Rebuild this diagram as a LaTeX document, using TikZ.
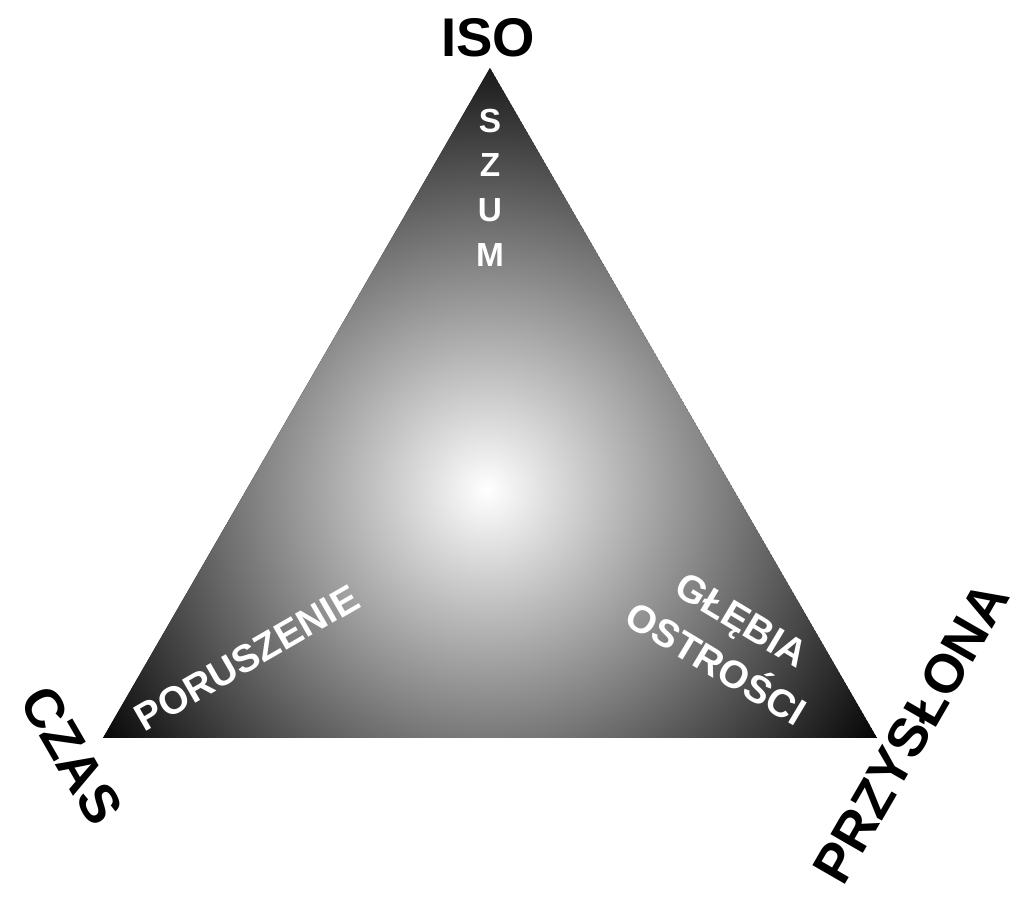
\documentclass[tikz,border=0pt]{standalone}
\usepackage{fontspec}
\setmainfont{Liberation Sans}

\begin{document}
\begin{tikzpicture}[x=0.02cm,y=0.02cm,
	corner/.style = {font=\fontsize{31}{31}\selectfont\bfseries, inner sep=0pt},
	effect/.style = {font=\fontsize{22}{29}\selectfont\bfseries, text=white, align=center, inner sep=0pt}]
	\useasboundingbox (0,0) rectangle (1024,922);
	\coordinate (iso) at (490,854);
	\coordinate (czas) at (103,184);
	\coordinate (przyslona) at (877,184);
	\begin{scope}
		\clip (czas) -- (iso) -- (przyslona) -- cycle;
		\fill[black] (czas) -- (iso) -- (przyslona) -- cycle;
		\shade[inner color=white, outer color=black] (487,432) circle (470);
	\end{scope}
	\node[corner] (isolabel) at (488,884) {ISO};
	\node[corner, rotate=-60] (czaslabel) at (72,167) {CZAS};
	\node[corner, rotate=60] (przyslonalabel) at (911,189) {PRZYSŁONA};
	\foreach \ch [count=\i] in {S,Z,U,M}
		\node[effect, font=\fontsize{19}{19}\selectfont\bfseries] (szum\i) at (490,846-44.7*\i) {\ch};
	\node[effect, rotate=30] (poruszenie) at (247,264) {PORUSZENIE};
	\node[effect, rotate=-31] (glebia) at (729,280) {GŁĘBIA\\OSTROŚCI};
\end{tikzpicture}
\end{document}
